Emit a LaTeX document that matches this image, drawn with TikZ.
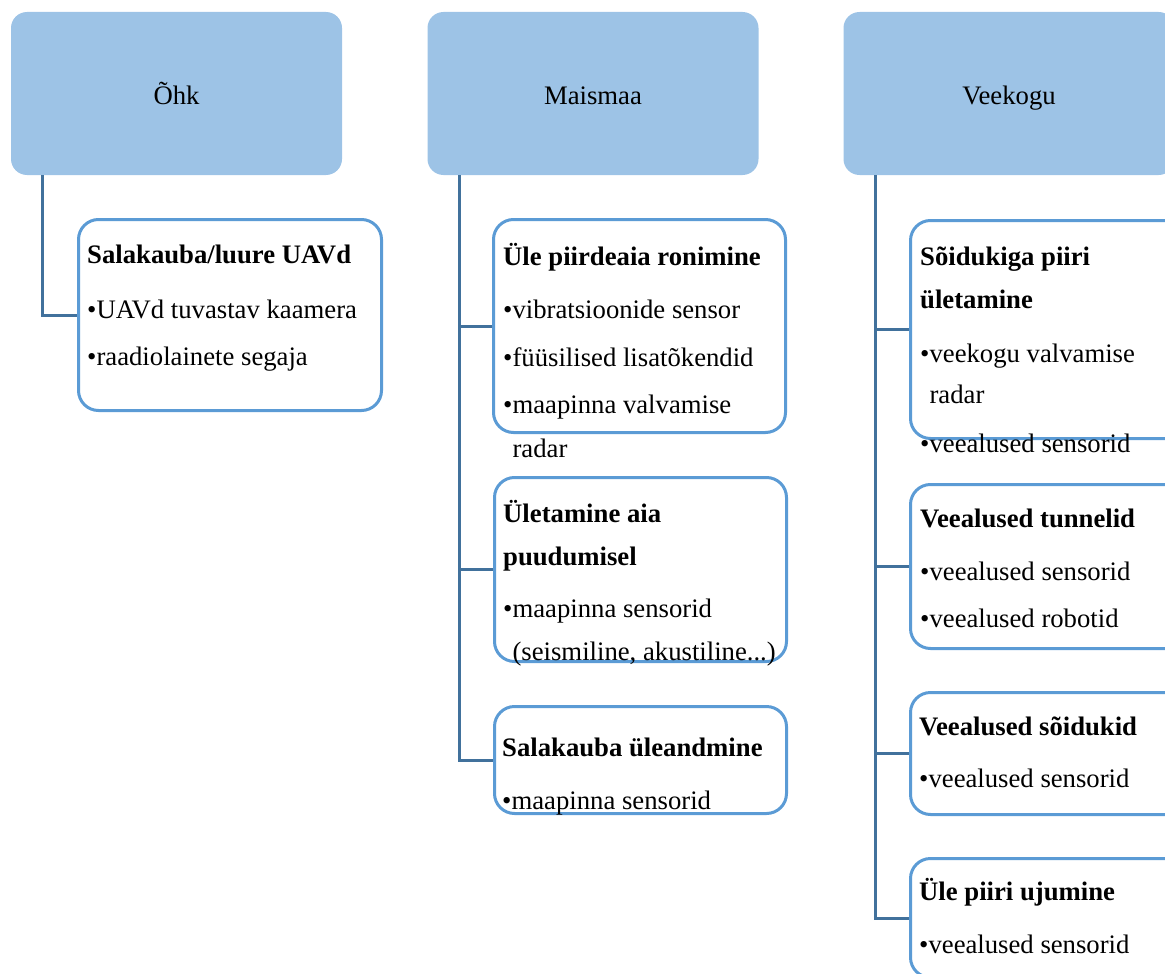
\documentclass[tikz,border=0pt]{standalone}
\usepackage{fontspec}
\setmainfont{Liberation Serif}
\usetikzlibrary{calc}
\definecolor{hdrblue}{RGB}{157,195,230}
\definecolor{leafblue}{RGB}{91,155,213}
\definecolor{linkblue}{RGB}{65,113,156}

\begin{document}
\begin{tikzpicture}[x=1pt,y=-1pt,
  hdr/.style={fill=hdrblue,rounded corners=16pt,minimum width=331pt,minimum height=163pt,inner sep=0pt,text height=23pt,text depth=1pt,font=\fontsize{26.7}{32}\selectfont},
  leaf/.style={draw=leafblue,line width=3pt,rounded corners=20pt,fill=white,minimum width=292pt,inner sep=0pt},
  leaftxt/.style={anchor=north west,inner sep=0pt,align=left,font=\fontsize{26.7}{43}\selectfont},
  conn/.style={draw=linkblue,line width=3pt}]
  \useasboundingbox (0,0) rectangle (1165,974);
  \clip (0,0) rectangle (1165,974);
  % column headers
  \node[hdr] (ohk) at (176.5,93.5) {Õhk};
  \node[hdr] (maa) at (593,93.5) {Maismaa};
  \node[hdr] (vee) at (1009,93.5) {Veekogu};
  % leaf boxes
  \node[leaf,minimum width=303pt,minimum height=191pt] (ohk1) at (230,315) {};
  \node[leaf,minimum height=213pt] (maa1) at (639.5,326) {};
  \node[leaf,minimum height=184pt] (maa2) at (640.5,569.5) {};
  \node[leaf,minimum height=107pt] (maa3) at (640.5,760) {};
  \node[leaf,minimum height=218pt] (vee1) at (1056.5,329.5) {};
  \node[leaf,minimum height=164pt] (vee2) at (1056.5,566.5) {};
  \node[leaf,minimum height=122pt] (vee3) at (1056.5,753.5) {};
  \node[leaf,minimum height=119pt] (vee4) at (1056.5,918) {};
  % connectors
  \draw[conn] ($(ohk.south west)+(32,0)$) |- (ohk1.west);
  \foreach \b in {maa1,maa2,maa3}
    \draw[conn] ($(maa.south west)+(32,0)$) |- (\b.west);
  \foreach \b in {vee1,vee2,vee3,vee4}
    \draw[conn] ($(vee.south west)+(32,0)$) |- (\b.west);
  % leaf texts
  \node[leaftxt] (ohk1t) at (87,237) {\rule{0pt}{26pt}\textbf{Salakauba/luure UAVd}\\[12pt]
    •UAVd tuvastav kaamera\\[4pt] •raadiolainete segaja};
  \node[leaftxt] (maa1t) at (503,239) {\rule{0pt}{26pt}\textbf{Üle piirdeaia ronimine}\\[10pt]
    •vibratsioonide sensor\\[5pt] •füüsilised lisatõkendid\\[4pt]
    •maapinna valvamise\\[1pt] \phantom{•}radar};
  \node[leaftxt] (maa2t) at (503,496) {\rule{0pt}{26pt}\textbf{Ületamine aia}\\
    \textbf{puudumisel}\\[9pt] •maapinna sensorid\\ \phantom{•}(seismiline, akustiline...)};
  \node[leaftxt] (maa3t) at (502,730) {\rule{0pt}{26pt}\textbf{Salakauba üleandmine}\\[10pt]
    •maapinna sensorid};
  \node[leaftxt] (vee1t) at (920,239) {\rule{0pt}{26pt}\textbf{Sõidukiga piiri}\\
    \textbf{ületamine}\\[11pt] •veekogu valvamise\\[-2pt] \phantom{•}radar\\[6pt]
    •veealused sensorid};
  \node[leaftxt] (vee2t) at (920,501) {\rule{0pt}{26pt}\textbf{Veealused tunnelid}\\[10pt]
    •veealused sensorid\\[4pt] •veealused robotid};
  \node[leaftxt] (vee3t) at (919,709) {\rule{0pt}{26pt}\textbf{Veealused sõidukid}\\[9pt]
    •veealused sensorid};
  \node[leaftxt] (vee4t) at (919,874) {\rule{0pt}{26pt}\textbf{Üle piiri ujumine}\\[10pt]
    •veealused sensorid};
\end{tikzpicture}
\end{document}
